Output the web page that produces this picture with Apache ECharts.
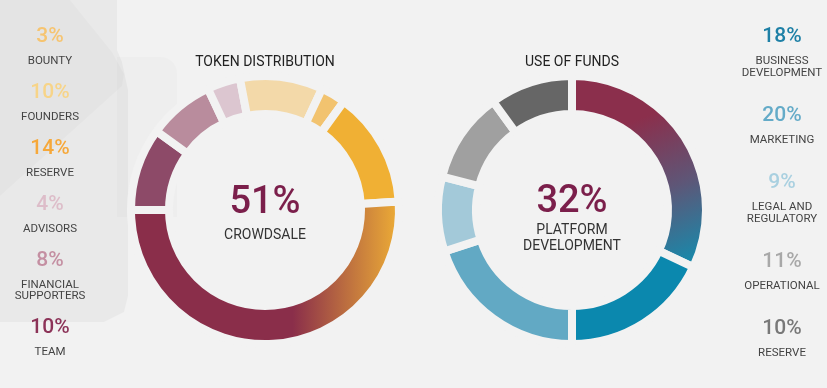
<!DOCTYPE html>
<html><head><meta charset="utf-8">
<script src="https://cdn.jsdelivr.net/npm/echarts@6/dist/echarts.min.js"></script>
<style>html,body{margin:0;padding:0;background:#f2f2f2}#c{width:827px;height:388px}</style>
</head><body><div id="c"></div>
<script>
// ---- data (ring order, clockwise) ----
const tokenNames = ['TEAM', 'FINANCIAL\nSUPPORTERS', 'ADVISORS', 'FOUNDERS', 'BOUNTY', 'RESERVE', 'CROWDSALE'];
const tokenValues = [10, 8, 4, 10, 3, 14, 51];
const tokenLegendOrder = ['BOUNTY', 'FOUNDERS', 'RESERVE', 'ADVISORS', 'FINANCIAL\nSUPPORTERS', 'TEAM'];
const tokenCenter = 'CROWDSALE';

const fundNames = ['PLATFORM\nDEVELOPMENT', 'BUSINESS\nDEVELOPMENT', 'MARKETING', 'LEGAL AND\nREGULATORY', 'OPERATIONAL', 'RESERVE'];
const fundValues = [32, 18, 20, 9, 11, 10];
const fundLegendOrder = ['BUSINESS\nDEVELOPMENT', 'MARKETING', 'LEGAL AND\nREGULATORY', 'OPERATIONAL', 'RESERVE'];
const fundCenter = 'PLATFORM\nDEVELOPMENT';

const titles = ['TOKEN DISTRIBUTION', 'USE OF FUNDS'];

// ---- styles ----
const BG = '#f2f2f2';
const FONT = 'Roboto, "Noto Sans", sans-serif';
const tokenRing = {
  'TEAM': '#8d4a68', 'FINANCIAL\nSUPPORTERS': '#b98c9d', 'ADVISORS': '#dcc6d0',
  'FOUNDERS': '#f3d9a9', 'BOUNTY': '#f2c36f', 'RESERVE': '#f0b034',
  'CROWDSALE': { type: 'linear', x: 0.6, y: 0, x2: 1, y2: 0,
    colorStops: [{ offset: 0, color: '#8a2e4a' }, { offset: 1, color: '#f1b235' }] }
};
const tokenText = {
  'BOUNTY': '#f6c470', 'FOUNDERS': '#f7d488', 'RESERVE': '#f6a83a',
  'ADVISORS': '#ddbdc9', 'FINANCIAL\nSUPPORTERS': '#c48fa2', 'TEAM': '#8c3358'
};
const fundRing = {
  'PLATFORM\nDEVELOPMENT': { type: 'linear', x: 0.45, y: 0.25, x2: 0.85, y2: 0.95,
    colorStops: [{ offset: 0, color: '#8b2f4c' }, { offset: 0.5, color: '#5e5677' }, { offset: 1, color: '#1a88aa' }] },
  'BUSINESS\nDEVELOPMENT': '#0b88ae', 'MARKETING': '#62a9c4', 'LEGAL AND\nREGULATORY': '#a3c9d9',
  'OPERATIONAL': '#a0a0a0', 'RESERVE': '#666666'
};
const fundText = {
  'BUSINESS\nDEVELOPMENT': '#1e80a6', 'MARKETING': '#64abc8', 'LEGAL AND\nREGULATORY': '#a9d0e0',
  'OPERATIONAL': '#a8a8a8', 'RESERVE': '#787878'
};

const L = { cx: 265, cy: 210 }, R = { cx: 572, cy: 210 };

const chart = echarts.init(document.getElementById('c'), null, { renderer: 'canvas' });

function pie(center, names, values, colors, start) {
  return {
    type: 'pie', center: center, radius: [96, 134], startAngle: start, clockwise: true,
    silent: true, animation: false, label: { show: false }, labelLine: { show: false },
    itemStyle: { borderColor: BG, borderWidth: 8 },
    data: names.map((n, i) => ({ name: n, value: values[i], itemStyle: { color: colors[n] } }))
  };
}

const g = [];
// background decoration
g.push({ type: 'polygon', shape: { points: [[0,0],[117,0],[117,50],[122,62],[128,90],[128,296],[124,312],[104,322],[0,322]], smooth: 0 },
  style: { fill: 'rgba(0,0,0,0.035)' }, z: -10 });
g.push({ type: 'polygon', shape: { points: [[0,0],[70,0],[112,52],[124,74],[122,86],[0,196]] },
  style: { fill: 'rgba(0,0,0,0.02)' }, z: -9 });
g.push({ type: 'rect', shape: { x: 117, y: 57, width: 60, height: 160, r: [0, 16, 0, 0] },
  style: { fill: 'rgba(0,0,0,0.015)' }, z: -10 });

function txt(text, x, y, fill, font, opts) {
  return Object.assign({ type: 'text', silent: true, z: 10,
    style: Object.assign({ text: text, x: x, y: y, fill: fill, font: font, textAlign: 'center', textVerticalAlign: 'middle' }, opts || {}) });
}

// titles
g.push(txt(titles[0], L.cx, 62, '#222222', '14px ' + FONT));
g.push(txt(titles[1], R.cx, 62, '#222222', '14px ' + FONT));

// centers
const ci = tokenNames.indexOf(tokenCenter);
g.push(txt(tokenValues[ci] + '%', L.cx, 203, '#7b1f4b', '500 38px ' + FONT));
g.push(txt(tokenCenter, L.cx, 235, '#333333', '14px ' + FONT));
const fi = fundNames.indexOf(fundCenter);
g.push(txt(fundValues[fi] + '%', R.cx, 202, '#7b1f4b', '500 38px ' + FONT));
g.push(txt(fundCenter, R.cx, 222, '#333333', '14px ' + FONT, { textVerticalAlign: 'top', lineHeight: 16 }));

// left legend
let y = 37;
tokenLegendOrder.forEach(n => {
  const v = tokenValues[tokenNames.indexOf(n)];
  g.push(txt(v + '%', 50, y, tokenText[n], '500 21px ' + FONT));
  g.push(txt(n, 50, y + 24 - 6, '#444444', '11.5px ' + FONT, { textVerticalAlign: 'top', lineHeight: 11.5 }));
  y += 56 + 11 * (n.split('\n').length - 1);
});
// right legend
y = 37;
fundLegendOrder.forEach(n => {
  const v = fundValues[fundNames.indexOf(n)];
  g.push(txt(v + '%', 782, y, fundText[n], '500 21px ' + FONT));
  g.push(txt(n, 782, y + 24 - 6, '#444444', '11.5px ' + FONT, { textVerticalAlign: 'top', lineHeight: 12 }));
  y += 67 + 12 * (n.split('\n').length - 1);
});

chart.setOption({
  backgroundColor: BG,
  animation: false,
  graphic: { elements: g },
  series: [
    pie([L.cx, L.cy], tokenNames, tokenValues, tokenRing, 180),
    pie([R.cx, R.cy], fundNames, fundValues, fundRing, 90)
  ]
});
</script></body></html>
